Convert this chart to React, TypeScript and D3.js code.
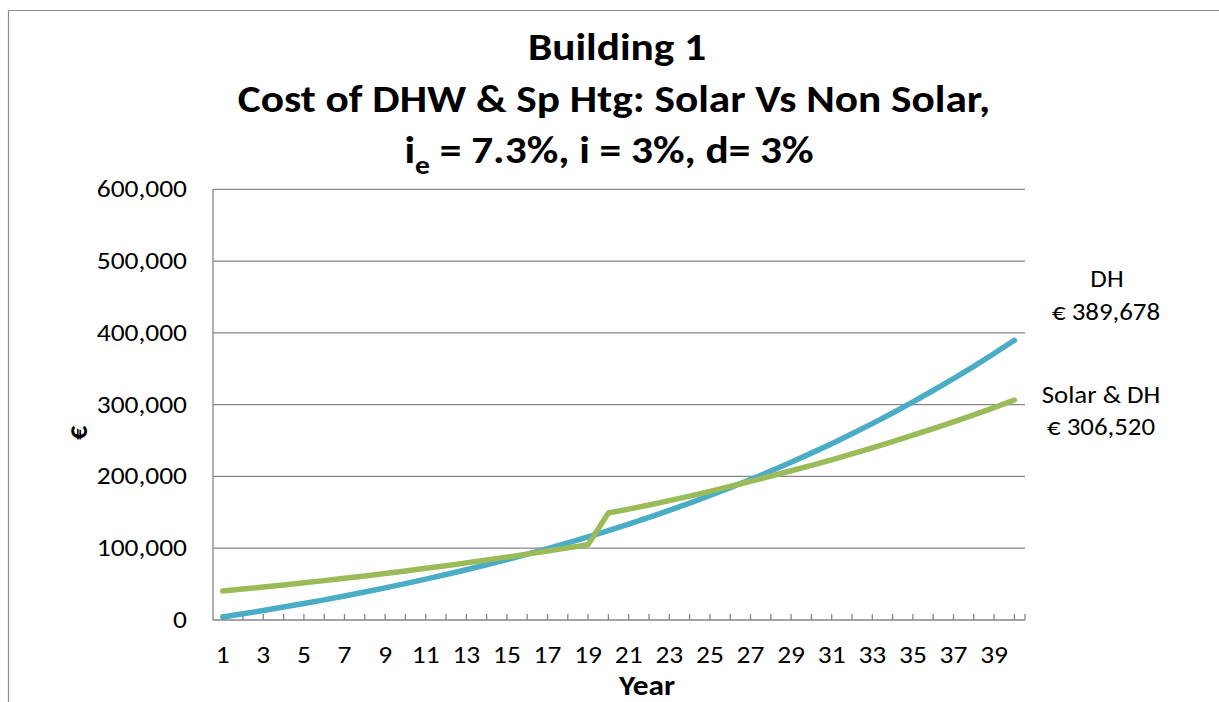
import React from 'react';
import * as d3 from 'd3';

const WIDTH = 1219;
const HEIGHT = 702;
const PLOT = { left: 213, right: 1025, top: 189.3, bottom: 620 };
const FONT = 'Calibri, Carlito, Lato, sans-serif';
const STRETCH = 1.12; // the source picture is a bit wider than tall

const years = d3.range(1, 41);

// cumulative cost, district heating only
const dhCost = [
  4250, 8664, 13246, 18006, 22949, 28083, 33414, 38951, 44700, 50671,
  56872, 63312, 70000, 76944, 84157, 91647, 99425, 107503, 115892, 124604,
  133652, 143047, 152804, 162937, 173460, 184388, 195737, 207523, 219762, 232473,
  245674, 259382, 273618, 288402, 303756, 319700, 336259, 353455, 371313, 389678,
];

// cumulative cost, solar + district heating (replacement at year 20)
const solarCost = [
  40500, 43150, 45910, 48780, 51760, 54850, 58050, 61360, 64780, 68310,
  71950, 75700, 79560, 83530, 87610, 91800, 96100, 100510, 105010, 149000,
  154500, 160250, 166240, 172480, 179200, 186100, 193200, 200500, 207900, 215400,
  223200, 231300, 239700, 248400, 257400, 266600, 276000, 285700, 295800, 306520,
];

const yTicks = [0, 100000, 200000, 300000, 400000, 500000, 600000];
const xTickLabels = years.filter((y) => y % 2 === 1);

const seriesNames = ['DH', 'Solar & DH'];
const endLabels = ['€ 389,678', '€ 306,520'];
const colors = ['#4BACC6', '#9BBB59'];

type STextProps = React.SVGProps<SVGTextElement> & { px: number; py: number; sx?: number };

const SText = ({ px, py, sx = STRETCH, children, ...rest }: STextProps) => (
  <text transform={`translate(${px},${py}) scale(${sx},1)`} {...rest}>
    {children}
  </text>
);

export default function App() {
  const x = d3
    .scalePoint<number>()
    .domain(years)
    .range([PLOT.left + 9.7, PLOT.right - 10.6]);
  const y = d3.scaleLinear().domain([0, 600000]).range([PLOT.bottom, PLOT.top]);

  const line = d3
    .line<number>()
    .x((_, i) => x(years[i]) as number)
    .y((d) => y(d));

  const fmt = d3.format(',');

  return (
    <svg
      width={WIDTH}
      height={HEIGHT}
      style={{ position: 'absolute', left: 0, top: 0, background: '#fff' }}
      fontFamily={FONT}
    >
      {/* chart border */}
      <line x1={8.5} x2={WIDTH} y1={10.5} y2={10.5} stroke="#8c8c8c" strokeWidth={1.2} />
      <line x1={8.5} x2={8.5} y1={10.5} y2={HEIGHT} stroke="#8c8c8c" strokeWidth={1.2} />

      {/* title */}
      <g fontWeight="bold" fontSize={38} textAnchor="middle" fill="#000">
        <SText px={617} py={59.5} sx={1.14}>Building 1</SText>
        <SText px={614} py={111.5} sx={1.14}>Cost of DHW &amp; Sp Htg: Solar Vs Non Solar,</SText>
        <SText px={609} py={163} sx={1.14}>
          i<tspan fontSize={26} dy={11}>e</tspan>
          <tspan dy={-11}> = 7.3%, i = 3%, d= 3%</tspan>
        </SText>
      </g>

      {/* gridlines */}
      {yTicks.map((t) => (
        <g key={t}>
          <line
            x1={PLOT.left}
            x2={PLOT.right}
            y1={y(t)}
            y2={y(t)}
            stroke="#868686"
            strokeWidth={1.3}
          />
          <SText px={187} py={y(t) + 8} textAnchor="end" fontSize={24.5} fill="#000">
            {fmt(t)}
          </SText>
        </g>
      ))}

      {/* y axis */}
      <line x1={PLOT.left} x2={PLOT.left} y1={PLOT.top} y2={PLOT.bottom} stroke="#868686" strokeWidth={1.3} />

      {/* x ticks */}
      {years.map((yr) => (
        <line
          key={yr}
          x1={x(yr)}
          x2={x(yr)}
          y1={PLOT.bottom - 6}
          y2={PLOT.bottom}
          stroke="#868686"
          strokeWidth={1.3}
        />
      ))}
      <line x1={PLOT.right} x2={PLOT.right} y1={PLOT.bottom - 6} y2={PLOT.bottom} stroke="#868686" strokeWidth={1.3} />
      {xTickLabels.map((yr) => (
        <SText key={yr} px={x(yr) as number} py={663} textAnchor="middle" fontSize={24.5} fill="#000">
          {yr}
        </SText>
      ))}

      {/* axis titles */}
      <SText px={647} py={695} textAnchor="middle" fontSize={28} fontWeight="bold">
        Year
      </SText>
      <text
        transform="translate(87,433) rotate(-90)"
        textAnchor="middle"
        fontSize={28}
        fontWeight="bold"
      >
        €
      </text>

      {/* series */}
      {[dhCost, solarCost].map((s, i) => (
        <path
          key={i}
          d={line(s) || ''}
          fill="none"
          stroke={colors[i]}
          strokeWidth={5.5}
          strokeLinecap="round"
          strokeLinejoin="round"
        />
      ))}

      {/* end labels */}
      <g fontSize={24} textAnchor="middle" fill="#000">
        <SText px={1107} py={286.5}>{seriesNames[0]}</SText>
        <SText px={1106} py={320}>{endLabels[0]}</SText>
        <SText px={1101} py={403.3}>{seriesNames[1]}</SText>
        <SText px={1101} py={435}>{endLabels[1]}</SText>
      </g>
    </svg>
  );
}
